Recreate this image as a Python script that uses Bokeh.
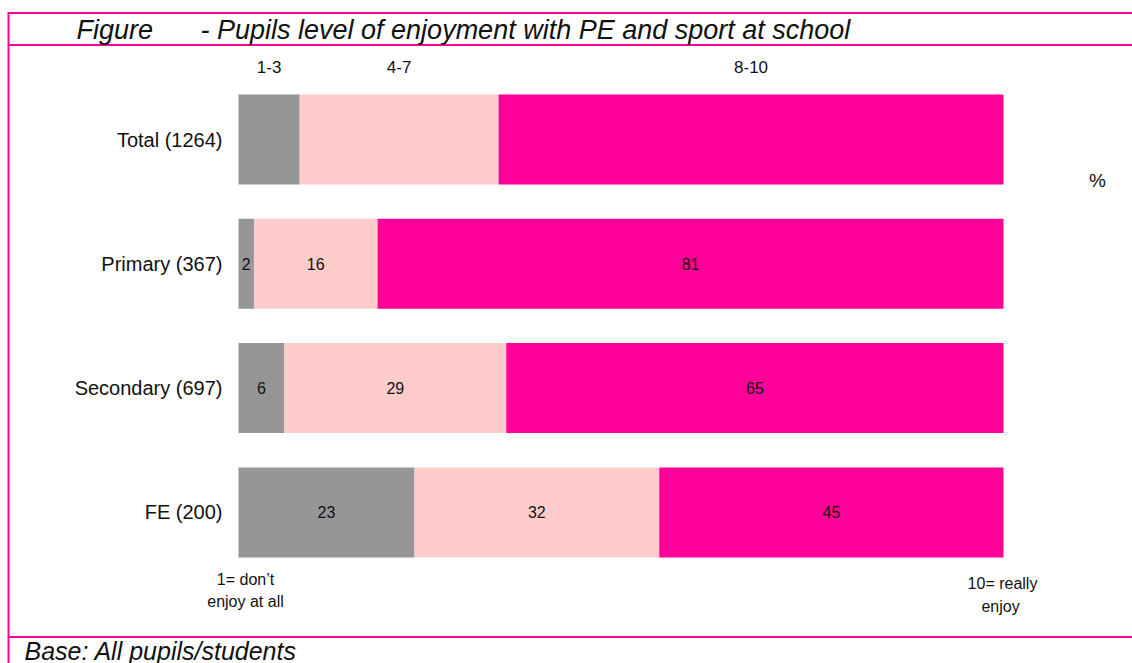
from bokeh.plotting import figure
from bokeh.models import Range1d, Label, ColumnDataSource
from bokeh.core.properties import value
from bokeh.embed import file_html
from bokeh.resources import INLINE

# ---- data ----
categories = ["Total (1264)", "Primary (367)", "Secondary (697)", "FE (200)"]
score_bands = ["1-3", "4-7", "8-10"]
low_1_3 = [8, 2, 6, 23]
mid_4_7 = [26, 16, 29, 32]
high_8_10 = [66, 81, 65, 45]
show_values = [False, True, True, True]

title_lead = "Figure"
title_text = "- Pupils level of enjoyment with PE and sport at school"
base_text = "Base: All pupils/students"

COLORS = ["#969696", "#FFCCCC", "#FF0099"]
FRAME = "#FF0099"
FONT = "Liberation Sans"

W, H = 1132, 663
OFF = 0.0  # page offset of the canvas
X0, X100 = 238.0, 1003.0
XS = (X100 - X0) / 100.0
ROW0, ROWSTEP = 139.0, 124.3


def px(page_x):
    return (page_x - X0) / XS


def py(page_y):
    return (page_y - ROW0) / ROWSTEP


p = figure(width=W, height=H,
           x_range=Range1d(px(OFF), px(OFF + W)),
           y_range=Range1d(py(OFF + H), py(OFF)),
           output_backend="svg", toolbar_location=None,
           x_axis_location=None, y_axis_location=None,
           min_border=0, min_border_left=0, min_border_right=0,
           min_border_top=0, min_border_bottom=0)
p.grid.visible = False
p.outline_line_color = None
p.background_fill_color = "white"
p.border_fill_color = "white"

rows = list(range(len(categories)))
series = [low_1_3, mid_4_7, high_8_10]
totals = [a + b + c for a, b, c in zip(*series)]

lefts = [0.0] * len(categories)
seg_centers = []
for k, vals in enumerate(series):
    norm = [v / t * 100.0 for v, t in zip(vals, totals)]
    rights = [l + n for l, n in zip(lefts, norm)]
    src = ColumnDataSource(dict(y=rows, left=lefts, right=rights))
    p.hbar(y="y", left="left", right="right", height=0.724, source=src,
           fill_color=COLORS[k], line_color=None)
    centers = [(l + r) / 2 for l, r in zip(lefts, rights)]
    seg_centers.append(centers)
    tx = [c for c, s in zip(centers, show_values) if s]
    ty = [r for r, s in zip(rows, show_values) if s]
    tt = [str(v) for v, s in zip(vals, show_values) if s]
    p.text(x=tx, y=ty, text=tt, text_align="center", text_baseline="middle",
           text_font_size="16px", text_color="#111111", text_font=value(FONT))
    lefts = rights

# category labels
p.text(x=[px(222)] * len(categories), y=rows, text=categories,
       text_align="right", text_baseline="middle", text_font_size="20px",
       text_color="#111111", text_font=value(FONT))

# header band labels above the Total bar segments
p.text(x=[seg_centers[k][0] for k in range(3)], y=[py(66)] * 3, text=score_bands,
       text_align="center", text_baseline="middle", text_font_size="17px",
       text_color="#111111", text_font=value(FONT))

# frame lines
for yy in (12.5, 44.5, 636.5):
    p.segment(x0=px(8), y0=py(yy), x1=px(OFF + W), y1=py(yy), line_color=FRAME, line_width=2)
p.segment(x0=px(8), y0=py(11.5), x1=px(8), y1=py(OFF + H), line_color=FRAME, line_width=2)


def label(x, y, text, size, align="left", style="normal"):
    p.add_layout(Label(x=px(x), y=py(y), text=text, text_align=align,
                       text_baseline="middle", text_font_size=size,
                       text_font=FONT, text_font_style=style, text_color="#111111"))


label(76, 29, title_lead, "27px", style="italic")
label(200, 29, title_text, "27px", style="italic")
label(1097, 180, "%", "19px", align="center")
label(245, 579, "1= don\u2019t", "16px", align="center")
label(245, 601, "enjoy at all", "16px", align="center")
label(1002, 583, "10= really", "16px", align="center")
label(1000, 606, "enjoy", "16px", align="center")
label(24, 650, base_text, "25px", style="italic")

open("out.html", "w").write(file_html(p, INLINE))
